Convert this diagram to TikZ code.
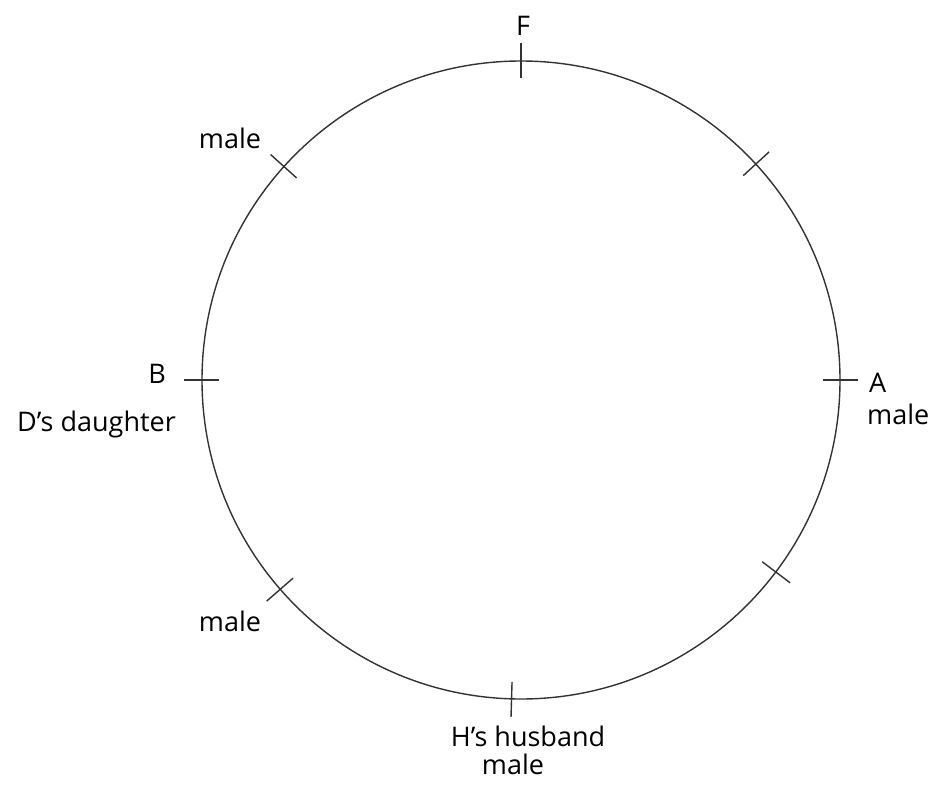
\documentclass[tikz,border=0pt]{standalone}
\usepackage{fontspec}
\setmainfont{Open Sans}
\usetikzlibrary{calc}
\begin{document}
\begin{tikzpicture}[x=1pt,y=-1pt,
  ring/.style={draw=black!80,line width=1.4pt},
  tickmark/.style={draw=black!80,line width=1.4pt},
  lbl/.style={font=\fontsize{27}{29}\selectfont,inner sep=0pt,text=black},
  lbll/.style={lbl,anchor=west}]
\useasboundingbox (0,0) rectangle (933,792);
\coordinate (O) at (521,380);
\draw[ring] (O) circle (319);
% ticks
\foreach \a/\n in {90/tF,268.3/tH,180/tB,0/tA,138/tUL,42.6/tUR,-37/tLR,221/tLL}{
  \coordinate (\n i) at ($(O)+({302*cos(\a)},{-302*sin(\a)})$);
  \coordinate (\n o) at ($(O)+({337*cos(\a)},{-337*sin(\a)})$);
  \draw[tickmark] (\n i) -- (\n o);
}
\node[lbl] (F) at (523,26) {F};
\node[lbl] (mUL) at (230,138) {male};
\node[lbl] (B) at (157,374) {B};
\node[lbl,anchor=base east] (Dd) at (176,431) {D’s daughter};
\node[lbll] (A) at (869,383) {A};
\node[lbll] (mA) at (867,414) {male};
\node[lbl] (Hh) at (528,736) {H’s husband};
\node[lbl] (mH) at (513,764) {male};
\node[lbl] (mLL) at (230,621) {male};
\end{tikzpicture}
\end{document}
